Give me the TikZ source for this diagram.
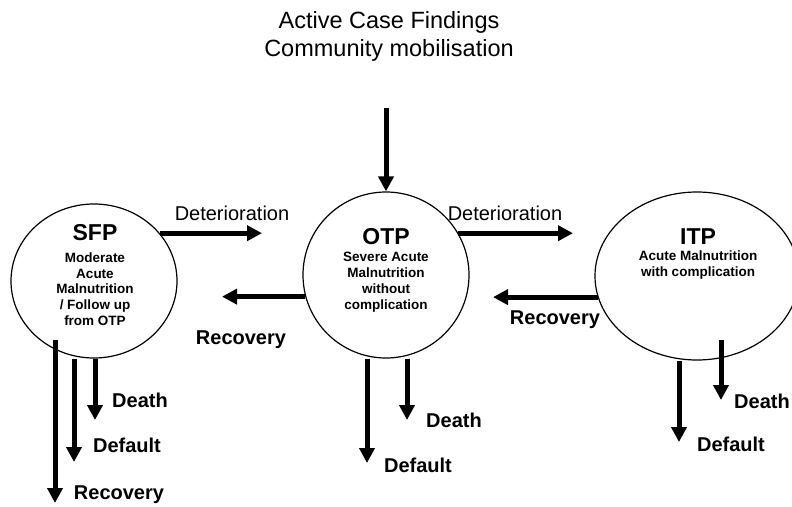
\documentclass[tikz,border=0pt]{standalone}
\usepackage{fontspec}
\setmainfont{Liberation Sans}
\usetikzlibrary{arrows.meta,shapes.geometric}

\tikzset{
  flow/.style={line width=5pt, -{Triangle[length=15pt,width=15pt]}},
  stage/.style={draw, ellipse, line width=1.2pt, inner sep=0pt},
  code/.style={font=\bfseries\fontsize{23}{26}\selectfont},
  desc/.style={font=\bfseries\fontsize{13.5}{15.8}\selectfont, align=center},
  outcome/.style={font=\bfseries\fontsize{20}{24}\selectfont},
  move/.style={font=\fontsize{20}{24}\selectfont}
}

\begin{document}
\begin{tikzpicture}[x=1pt,y=-1pt]

  \useasboundingbox (0,0) rectangle (792,506);

  % the three programmes
  \node[stage, minimum width=166, minimum height=154] (sfp) at (94,281) {};
  \node[stage, minimum width=166, minimum height=166] (otp) at (386,275) {};
  \node[stage, minimum width=204, minimum height=168] (itp) at (697,276) {};

  \node[code] (sfpcode) at (95,233) {SFP};
  \node[desc] (sfpdesc) at (95,289) {Moderate\\Acute\\Malnutrition\\/ Follow up\\from OTP};
  \node[code] (otpcode) at (386,237) {OTP};
  \node[desc] (otpdesc) at (386,282) {Severe Acute\\Malnutrition\\without\\complication};
  \node[code] (itpcode) at (698,237) {ITP};
  \node[desc] (itpdesc) at (698,265) {Acute Malnutrition\\with complication};

  \node[font=\fontsize{23.5}{28}\selectfont, align=center] (source) at (389,36)
    {Active Case Findings\\Community mobilisation};

  % entry
  \coordinate (feed) at (386,108);
  \draw[flow] (feed) -- (otp);

  % between programmes
  \coordinate (det1) at (262,234);
  \coordinate (det2) at (573,234);
  \coordinate (rec1) at (222,297);
  \coordinate (rec2) at (493,297);

  \draw[flow] (sfp.36) -- (sfp.36 -| det1);
  \draw[flow] (otp.30) -- (otp.30 -| det2);
  \draw[flow] (otp.195) -- (otp.195 -| rec1);
  \draw[flow] (itp.192) -- (itp.192 -| rec2);

  \node[move] (det1lbl) at (232,213) {Deterioration};
  \node[move] (det2lbl) at (505,213) {Deterioration};
  \node[outcome] (rec1lbl) at (241,340) {Recovery};
  \node[outcome] (rec2lbl) at (555,320) {Recovery};

  % exits
  \coordinate (sfprec0) at (55,340);
  \coordinate (sfprec) at (55,503);
  \coordinate (sfpdef) at (74,462);
  \coordinate (sfpdth) at (95,420);
  \coordinate (otpdef) at (367,463);
  \coordinate (otpdth) at (407,420);
  \coordinate (itpdef) at (679,442);
  \coordinate (itpdth0) at (721,340);
  \coordinate (itpdth) at (721,400);

  \draw[flow] (sfprec0) -- (sfprec);
  \draw[flow] (sfp.south -| sfpdef) -- (sfpdef);
  \draw[flow] (sfp.south -| sfpdth) -- (sfpdth);
  \draw[flow] (otp.south -| otpdef) -- (otpdef);
  \draw[flow] (otp.south -| otpdth) -- (otpdth);
  \draw[flow] (itp.south -| itpdef) -- (itpdef);
  \draw[flow] (itpdth0) -- (itpdth);

  \node[outcome] (sfpdthlbl) at (140,400) {Death};
  \node[outcome] (sfpdeflbl) at (127,445) {Default};
  \node[outcome] (sfpreclbl) at (119,495) {Recovery};
  \node[outcome] (otpdthlbl) at (454,420) {Death};
  \node[outcome] (otpdeflbl) at (418,465) {Default};
  \node[outcome] (itpdthlbl) at (762,401) {Death};
  \node[outcome] (itpdeflbl) at (731,444) {Default};

\end{tikzpicture}
\end{document}
